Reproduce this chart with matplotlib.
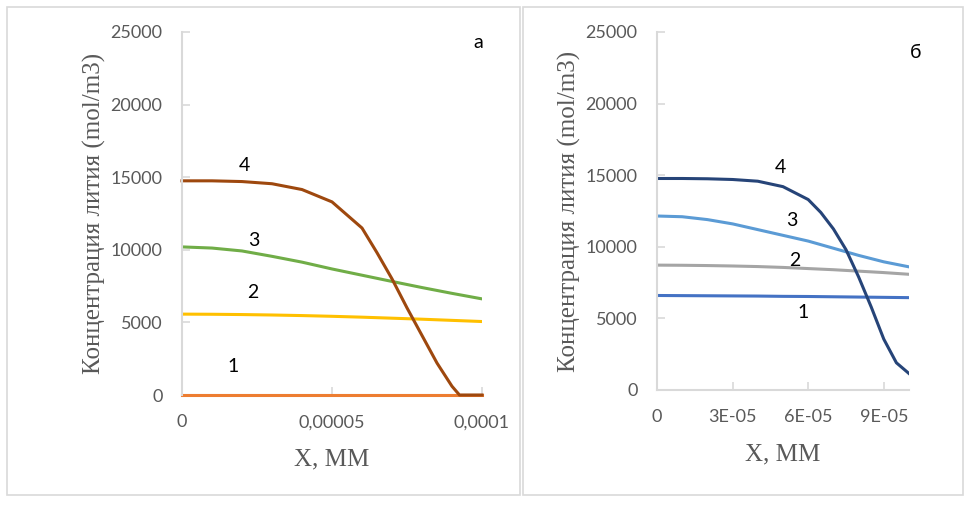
import matplotlib.pyplot as plt
from matplotlib.patches import Rectangle
from matplotlib.ticker import FuncFormatter

# Data (x in мм)
x_a = [0, 1e-5, 2e-5, 3e-5, 4e-5, 5e-5, 6e-5, 7e-5, 8e-5, 9e-5, 1e-4]
x_a4 = [0, 1e-5, 2e-5, 3e-5, 4e-5, 5e-5, 6e-5, 6.5e-5, 7e-5, 7.5e-5, 8e-5,
        8.5e-5, 9e-5, 9.25e-5, 9.5e-5, 1e-4]
a1 = [0, 0, 0, 0, 0, 0, 0, 0, 0, 0, 0]
a2 = [5570, 5560, 5540, 5510, 5470, 5420, 5360, 5290, 5220, 5140, 5060]
a3 = [10200, 10120, 9920, 9550, 9150, 8680, 8250, 7820, 7400, 7000, 6620]
a4 = [14750, 14750, 14700, 14550, 14150, 13300, 11500, 9800, 8000, 6000, 4100,
      2200, 600, 0, 0, 0]

x_b = [0, 1e-5, 2e-5, 3e-5, 4e-5, 5e-5, 6e-5, 7e-5, 8e-5, 9e-5, 1e-4]
x_b4 = [0, 1e-5, 2e-5, 3e-5, 4e-5, 5e-5, 6e-5, 6.5e-5, 7e-5, 7.5e-5, 8e-5,
        8.5e-5, 9e-5, 9.5e-5, 1e-4]
b1 = [6600, 6590, 6580, 6570, 6560, 6540, 6530, 6510, 6490, 6470, 6450]
b2 = [8720, 8710, 8690, 8660, 8620, 8560, 8480, 8400, 8300, 8200, 8080]
b3 = [12150, 12100, 11900, 11600, 11200, 10800, 10400, 9900, 9400, 8950, 8600]
b4 = [14770, 14770, 14750, 14700, 14580, 14200, 13300, 12400, 11250, 9800, 7900,
      5800, 3550, 1900, 1150]

y_ticks = [0, 5000, 10000, 15000, 20000, 25000]
xa_ticks = [0, 5e-5, 1e-4]
xa_labels = ['0', '0,00005', '0,0001']
xb_ticks = [0, 3e-5, 6e-5, 9e-5]
xb_labels = ['0', '3E-05', '6E-05', '9E-05']

gray = '#595959'
axc = '#D9D9D9'

fig = plt.figure(figsize=(9.72, 5.05), dpi=100)

# panel frames
for x0, w in [(7 / 972, 513 / 972), (523 / 972, 440 / 972)]:
    fig.patches.append(Rectangle((x0, 1 - 495 / 505), w, 488 / 505, transform=fig.transFigure,
                                 fill=False, edgecolor=axc, linewidth=1.2))

ax1 = fig.add_axes([182 / 972, 1 - 395 / 505, 300 / 972, 363 / 505])
ax2 = fig.add_axes([657 / 972, 1 - 390 / 505, 252 / 972, 358 / 505])

ax1.plot(x_a, a1, color='#ED7D31', lw=2.2, clip_on=False)
ax1.plot(x_a, a2, color='#FFC000', lw=2.2)
ax1.plot(x_a, a3, color='#70AD47', lw=2.2)
ax1.plot(x_a4, a4, color='#9E480E', lw=2.2, clip_on=False)

ax2.plot(x_b, b1, color='#4472C4', lw=2.2)
ax2.plot(x_b, b2, color='#A5A5A5', lw=2.2)
ax2.plot(x_b, b3, color='#5B9BD5', lw=2.2)
ax2.plot(x_b4, b4, color='#264478', lw=2.2)

for ax, xt, xl in [(ax1, xa_ticks, xa_labels), (ax2, xb_ticks, xb_labels)]:
    ax.set_xlim(0, 1e-4)
    ax.set_ylim(0, 25000)
    ax.set_yticks(y_ticks)
    ax.set_xticks(xt)
    ax.set_xticklabels(xl)
    for s in ['top', 'right']:
        ax.spines[s].set_visible(False)
    for s in ['left', 'bottom']:
        ax.spines[s].set_color(axc)
        ax.spines[s].set_linewidth(1.5)
    ax.spines['bottom'].set_zorder(0.5)
    ax.tick_params(direction='in', length=6, width=1.2, color=axc, pad=14,
                   labelcolor=gray, labelsize=13)
    for lab in ax.get_xticklabels() + ax.get_yticklabels():
        lab.set_family('Lato')
    ax.set_xlabel('X, MM', family='Liberation Serif', fontsize=18, color=gray, labelpad=13)
    ax.set_ylabel('Концентрация лития (mol/m3)', family='Liberation Serif', fontsize=18,
                  color=gray, labelpad=3)
    ax.patch.set_alpha(0)

ax1.yaxis.set_major_formatter(FuncFormatter(lambda v, p: f'{int(v)}'))
ax2.yaxis.set_major_formatter(FuncFormatter(lambda v, p: f'{int(v)}'))

# curve numbers
lab_kw = dict(family='Lato', fontsize=14, color='black', ha='center', va='center')
for t, px, py in [('4', 244, 165), ('3', 254, 240), ('2', 253, 293), ('1', 233, 366),
                  ('а', 478, 42), ('4', 780, 167), ('3', 792, 221), ('2', 795, 261),
                  ('1', 803, 313), ('б', 916, 53)]:
    fig.text(px / 972, 1 - py / 505, t, **lab_kw)

fig.savefig('out.png', dpi=100)
